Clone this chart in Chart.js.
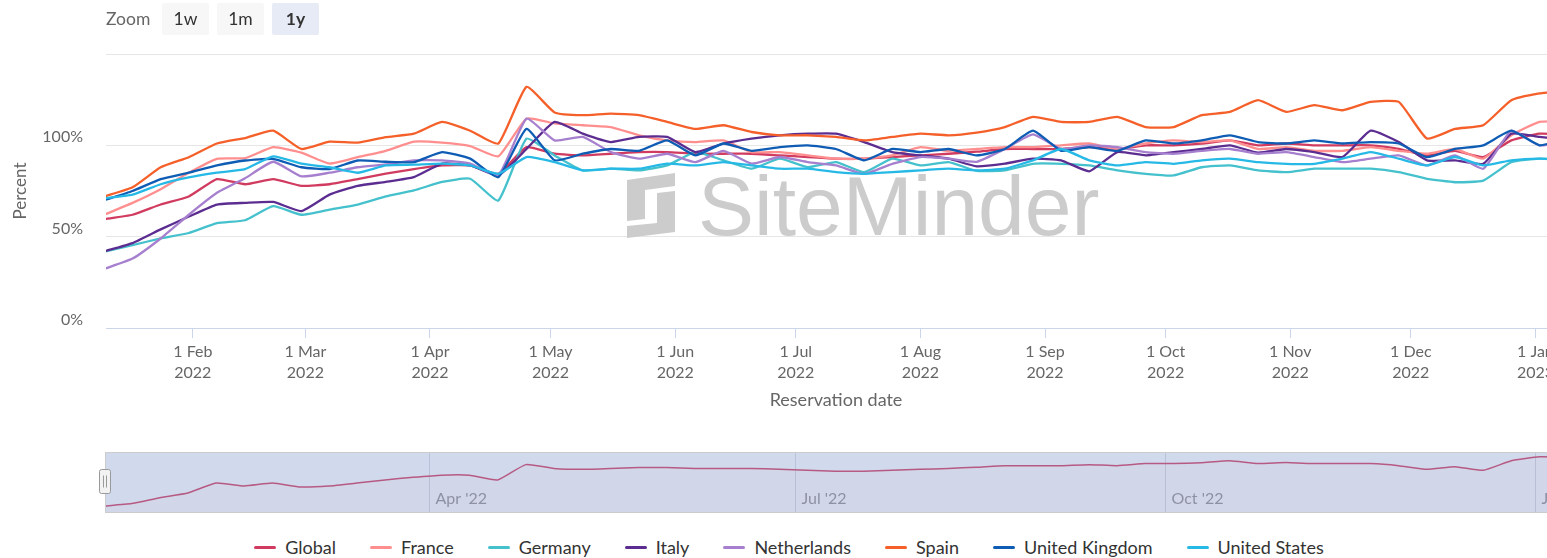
<!DOCTYPE html>
<html>
<head>
<meta charset="utf-8">
<script src="https://cdn.jsdelivr.net/npm/chart.js@4.4.0/dist/chart.umd.min.js"></script>
<style>
html, body { margin: 0; padding: 0; background: #fff; overflow: hidden; width: 1547px; height: 558px; }
#wrap { position: relative; width: 1580px; height: 558px; font-family: Lato, "Noto Sans", sans-serif; }
#main { position: absolute; left: 0; top: 0; }
#nav { position: absolute; left: 0; top: 445px; }
#zoom .lbl { position: absolute; left: 106px; top: 3px; line-height: 32px; color: #666; font-size: 17.5px; }
#zoom .btn { position: absolute; top: 3px; width: 47px; height: 32px; line-height: 32px; text-align: center;
             background: #f7f7f7; border-radius: 2px; color: #333; font-size: 17.5px; }
#zoom .btn.on { background: #e6ebf5; font-weight: bold; }
#legend { position: absolute; left: 0; top: 536px; width: 1578px; display: flex; justify-content: center; }
#legend .item { display: flex; align-items: center; margin: 0 17px; color: #333; font-size: 18px; }
#legend .sym { width: 22px; height: 3px; border-radius: 2px; margin-right: 9px; }
</style>
</head>
<body>
<div id="wrap">
  <canvas id="main" width="1580" height="420"></canvas>
  <canvas id="nav" width="1580" height="75"></canvas>
  <div id="zoom">
    <span class="lbl">Zoom</span>
    <span class="btn" style="left:162px">1w</span>
    <span class="btn" style="left:217px">1m</span>
    <span class="btn on" style="left:272px">1y</span>
  </div>
  <div id="legend"></div>
</div>
<script>
// Day numbers counted from 1 Jan 2022 (weekly reservation dates)
const reservationDays = [9, 16, 23, 30, 37, 44, 51, 58, 65, 72, 79, 86, 93, 100, 107, 114, 121, 128, 135, 142,
    149, 156, 163, 170, 177, 184, 191, 198, 205, 212, 219, 226, 233, 240, 247, 254, 261, 268, 275, 282,
    289, 296, 303, 310, 317, 324, 331, 338, 345, 352, 359, 366, 373];

const globalVals = [59.6, 62, 67.6, 72, 81.5, 78.7, 81.5, 77.8, 78.7, 81.5, 84.5, 87, 89, 89, 84.4, 99, 95.4, 94.5, 95.4, 96.3,
    96.3, 95.4, 95.4, 95.4, 94.5, 93.6, 92.7, 92.7, 93.6, 94.5, 95.4, 96.5, 98, 98, 98, 99, 98, 100, 100, 100.9,
    102.7, 100, 101, 100, 100, 100, 98, 94.5, 97, 93.6, 102.7, 106.4, 106];
const franceVals = [62, 68.5, 76, 85, 92.6, 93, 99, 96, 90, 93.5, 97, 102, 101.5, 99.6, 94, 114.6, 112, 111, 110, 105.5,
    102.7, 101.8, 102.7, 96.3, 96.3, 94.5, 92.7, 92.7, 94.5, 99, 97, 98, 99, 99, 100, 101, 98, 101, 102.7, 101.8,
    102.7, 98, 99, 97, 97, 99, 97, 95.4, 98, 92.7, 105.5, 112.8, 113];
const germanyVals = [41.7, 45.4, 49, 52, 57.4, 59, 66.7, 62, 64.8, 67.6, 72, 75.3, 80, 81.7, 69.8, 103.7, 94.5, 86.3, 87.2, 86.3,
    89, 96.3, 91.8, 87.2, 92.7, 88, 90.8, 85.3, 92.7, 89, 90.8, 86, 86.3, 89.9, 89.9, 89, 86.3, 84.4, 83.5, 88,
    89, 86.3, 85.3, 87.2, 87.2, 87.2, 85.3, 81.7, 79.8, 80.7, 90.8, 92.7, 92];
const italyVals = [42, 46.5, 54, 61, 67.6, 68.5, 69, 64, 73, 77.8, 80, 82.6, 90, 89, 83.5, 98, 112.8, 106.4, 101.8, 104.6,
    104.6, 96.3, 101, 103.7, 105.5, 106.4, 106.4, 101.8, 96.3, 94.5, 92.7, 88.5, 90, 92.7, 91.8, 85.8, 96.3, 94.5, 96.3, 98,
    100, 96, 98, 96.3, 93.6, 108, 101.8, 91.8, 91.8, 89.9, 106.4, 104.6, 103];
const netherlandsVals = [32.4, 38, 49, 62, 74, 82, 91, 83, 85, 88, 89.5, 91.8, 91.8, 90, 83.5, 114.6, 102.7, 104.6, 96.3, 92.7,
    95.4, 90.8, 97, 90, 93.6, 90.8, 89, 84.4, 89.9, 93.6, 92.7, 91, 98, 106, 98, 100, 99, 96.3, 95.4, 97,
    98, 95.4, 96.3, 93.6, 90.8, 92.7, 94.5, 89, 94.5, 87.2, 108, 100, 102];
const spainVals = [72, 77, 88, 93.5, 101, 104, 108, 98, 102, 101.5, 104.5, 106.4, 112.8, 108, 101, 132, 118, 116.5, 117.4, 116.5,
    112.8, 109, 111, 107.3, 105.5, 105.5, 104.6, 102.7, 104.6, 106.4, 105.5, 107, 110, 115.6, 112.8, 112.8, 115.6, 110, 110, 116.5,
    118.3, 124.7, 118.3, 122, 119.2, 123.8, 123.8, 103.7, 109, 111, 124.7, 128.4, 130];
const ukVals = [70, 75, 81.5, 85, 89, 91.7, 92.6, 88, 87, 91.7, 91, 90.8, 96.3, 92.7, 82.6, 109, 91.8, 95.4, 98, 97,
    102.7, 94.5, 101, 97, 99, 100, 98, 91.8, 98, 96.3, 98, 94.5, 98, 108, 97, 99, 97, 102.7, 101, 102.7,
    105.5, 101.8, 101, 102.7, 101, 101.8, 101, 93.6, 98, 100, 108, 100, 104];
const usVals = [71, 73, 78.7, 82.4, 85, 87, 94, 90, 88, 85, 89, 89.4, 90, 89, 84.4, 93.6, 90.8, 86.3, 87.2, 87.2,
    90, 89, 90.8, 89, 87.2, 87.2, 85.3, 84.4, 85.3, 86.3, 87.2, 86.3, 87.2, 91.8, 98, 91.8, 89, 90.8, 89.9, 91.8,
    92.7, 90.8, 89.9, 89.9, 92.7, 96.3, 92.7, 89, 93.6, 89, 91.8, 92.7, 92];

const seriesNames = ['Global', 'France', 'Germany', 'Italy', 'Netherlands', 'Spain', 'United Kingdom', 'United States'];
const seriesValues = [globalVals, franceVals, germanyVals, italyVals, netherlandsVals, spainVals, ukVals, usVals];
const seriesColors = ['#d13b5f', '#ff8f8f', '#44c1cc', '#5c2d91', '#a680cf', '#f5602a', '#0e5cb4', '#27b9e6'];

// Axis ticks
const tickDays = [31, 59, 90, 120, 151, 181, 212, 243, 273, 304, 334, 365];
const tickLabels = ['1 Feb', '1 Mar', '1 Apr', '1 May', '1 Jun', '1 Jul', '1 Aug', '1 Sep', '1 Oct', '1 Nov', '1 Dec', '1 Jan'];
const tickYears = ['2022', '2022', '2022', '2022', '2022', '2022', '2022', '2022', '2022', '2022', '2022', '2023'];
const yTicks = [0, 50, 100, 150];
const navTickDays = [90, 181, 273, 365];
const navTickLabels = ["Apr '22", "Jul '22", "Oct '22", "Jan '23"];

const X_MIN = 9.4;
const X_MAX = 372.6;

Chart.defaults.font.family = 'Lato, "Noto Sans", sans-serif';

function points(vals) {
    return reservationDays.map((d, i) => ({ x: d, y: vals[i] }));
}

// Grey SiteMinder watermark behind the lines
const watermark = {
    id: 'watermark',
    beforeDatasetsDraw(chart) {
        const ctx = chart.ctx;
        ctx.save();
        ctx.fillStyle = '#cccccc';
        ctx.font = '84px "Liberation Sans", Arial, sans-serif';
        ctx.textBaseline = 'alphabetic';
        ctx.fillText('SiteMinder', 698, 235);
        ctx.beginPath();
        ctx.moveTo(627, 180); ctx.lineTo(675, 173); ctx.lineTo(675, 186);
        ctx.lineTo(645, 190); ctx.lineTo(645, 219); ctx.lineTo(627, 221);
        ctx.closePath();
        ctx.fill();
        ctx.beginPath();
        ctx.moveTo(657, 193); ctx.lineTo(675, 191); ctx.lineTo(675, 232);
        ctx.lineTo(627, 238); ctx.lineTo(627, 226); ctx.lineTo(657, 223);
        ctx.closePath();
        ctx.fill();
        ctx.restore();
    }
};

new Chart(document.getElementById('main'), {
    type: 'line',
    data: {
        datasets: seriesNames.map((name, i) => ({
            label: name,
            data: points(seriesValues[i]),
            borderColor: seriesColors[i],
            backgroundColor: seriesColors[i],
            borderWidth: 2.3,
            pointRadius: 0,
            tension: 0.15,
            order: seriesNames.length - 1 - i
        }))
    },
    options: {
        responsive: false,
        animation: false,
        layout: { padding: { top: 54, right: 14, left: 0, bottom: 0 } },
        plugins: { legend: { display: false }, tooltip: { enabled: false } },
        scales: {
            x: {
                type: 'linear',
                min: X_MIN,
                max: X_MAX,
                afterBuildTicks: s => { s.ticks = tickDays.map(v => ({ value: v })); },
                afterFit: s => { s.height = 92; },
                ticks: {
                    autoSkip: false,
                    maxRotation: 0,
                    padding: 3,
                    color: '#666',
                    font: { size: 16, lineHeight: 1.31 },
                    callback: (v, i) => [tickLabels[i], tickYears[i]]
                },
                grid: { drawOnChartArea: false, color: '#ccd6eb', tickLength: 10 },
                border: { color: '#ccd6eb' },
                title: { display: true, text: 'Reservation date', color: '#666', font: { size: 18 }, padding: { bottom: 9 } }
            },
            y: {
                min: 0,
                max: 150,
                afterBuildTicks: s => { s.ticks = yTicks.map(v => ({ value: v })); },
                afterFit: s => { s.width = 106; },
                ticks: {
                    padding: 23,
                    labelOffset: -8,
                    color: '#666',
                    font: { size: 16 },
                    callback: v => (v === 150 ? '' : v + '%')
                },
                grid: { color: '#e6e6e6', drawTicks: false },
                border: { display: false },
                title: { display: true, text: 'Percent', color: '#666', font: { size: 17 }, padding: { top: 10 } }
            }
        }
    },
    plugins: [watermark]
});

// Navigator: mask, quarter grid, labels, outline and handles
const navigatorDeco = {
    id: 'navigatorDeco',
    beforeDatasetsDraw(chart) {
        const { ctx, chartArea: a, scales } = chart;
        ctx.save();
        ctx.fillStyle = 'rgba(102,133,194,0.3)';
        ctx.fillRect(a.left, a.top, a.right - a.left, a.bottom - a.top);
        ctx.strokeStyle = 'rgba(80,90,120,0.18)';
        ctx.lineWidth = 1;
        ctx.fillStyle = '#8d94a6';
        ctx.font = '16px Lato, sans-serif';
        ctx.textBaseline = 'middle';
        navTickDays.forEach((d, i) => {
            const x = Math.round(scales.x.getPixelForValue(d)) + 0.5;
            ctx.beginPath();
            ctx.moveTo(x, a.top);
            ctx.lineTo(x, a.bottom);
            ctx.stroke();
            ctx.fillText(navTickLabels[i], x + 6, a.bottom - 13);
        });
        ctx.restore();
    },
    afterDatasetsDraw(chart) {
        const { ctx, chartArea: a } = chart;
        ctx.save();
        ctx.strokeStyle = '#cccccc';
        ctx.lineWidth = 1;
        ctx.strokeRect(a.left + 0.5, a.top + 0.5, a.right - a.left, a.bottom - a.top);
        [a.left, a.right].forEach(x => {
            const hx = Math.round(x) - 5.5;
            const hy = a.top + 17.5;
            ctx.fillStyle = '#f2f2f2';
            ctx.strokeStyle = '#999999';
            ctx.beginPath();
            ctx.roundRect(hx, hy, 11, 24, 2);
            ctx.fill();
            ctx.stroke();
            ctx.beginPath();
            ctx.moveTo(hx + 4, hy + 6); ctx.lineTo(hx + 4, hy + 18);
            ctx.moveTo(hx + 7, hy + 6); ctx.lineTo(hx + 7, hy + 18);
            ctx.stroke();
        });
        ctx.restore();
    }
};

new Chart(document.getElementById('nav'), {
    type: 'line',
    data: {
        datasets: [{
            data: points(globalVals),
            borderColor: '#b75a83',
            borderWidth: 1.5,
            pointRadius: 0,
            tension: 0.15,
            fill: 'start',
            backgroundColor: 'rgba(208,52,90,0.025)'
        }]
    },
    options: {
        responsive: false,
        animation: false,
        layout: { padding: { left: 105, right: 14, top: 7, bottom: 8 } },
        plugins: { legend: { display: false }, tooltip: { enabled: false } },
        scales: {
            x: { type: 'linear', min: X_MIN, max: X_MAX, display: false },
            y: { min: 54, max: 111, display: false }
        }
    },
    plugins: [navigatorDeco]
});

// Legend
const legend = document.getElementById('legend');
seriesNames.forEach((name, i) => {
    const item = document.createElement('div');
    item.className = 'item';
    item.innerHTML = `<span class="sym" style="background:${seriesColors[i]}"></span><span>${name}</span>`;
    legend.appendChild(item);
});
</script>
</body>
</html>
